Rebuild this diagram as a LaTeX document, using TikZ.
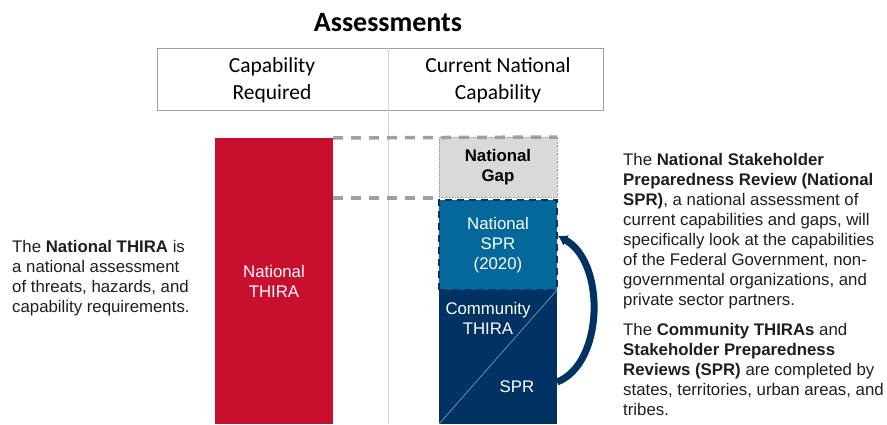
\documentclass[tikz,border=0pt]{standalone}
\usepackage{fontspec}
\setmainfont{Liberation Sans}
\newfontfamily\calfont{Carlito}
\usetikzlibrary{arrows.meta, positioning}
\tikzset{>=Latex}
\definecolor{thirared}{RGB}{200,16,46}
\definecolor{sprblue}{RGB}{4,104,154}
\definecolor{navy}{RGB}{0,50,100}
\definecolor{gapgray}{RGB}{217,217,217}
\definecolor{dashgray}{RGB}{160,160,160}
\definecolor{divblue}{RGB}{190,214,236}
\definecolor{bodytext}{RGB}{30,30,30}
\def\bodysize{\fontsize{16.8}{20}\selectfont}
\tikzset{
  bar/.style={inner sep=0, outer sep=0, align=center, font=\bodysize},
  gapline/.style={dashgray, line width=3.5pt, dash pattern=on 10pt off 8pt},
  head/.style={align=center, font=\calfont\fontsize{21.5}{27}\selectfont},
  note/.style={inner sep=0, align=left, font=\bodysize, text=bodytext}
}

\begin{document}
\begin{tikzpicture}[x=1pt, y=-1pt]
    \useasboundingbox (0,0) rectangle (887,424);

    %title and header
    \node[font=\calfont\fontsize{28}{32}\selectfont\bfseries] (title) at (388,23) {Assessments};
    \draw[dashgray, line width=0.8pt] (157,48) rectangle (603,110);
    \coordinate (divtop) at (388,48);
    \coordinate (divbot) at (388,424);
    \draw[divblue, line width=1pt] (divtop) -- (divbot);
    \node[head] (req) at (272,80) {Capability\\Required};
    \node[head] (cur) at (498,80) {Current National\\Capability};

    %capability required bar
    \node[bar, fill=thirared, text=white, minimum width=118, minimum height=286]
        (thira) at (274,281) {National\\THIRA};

    %current capability stack
    \node[bar, fill=gapgray, draw=dashgray, densely dotted, line width=0.6pt,
          minimum width=118, minimum height=60, font=\bodysize\bfseries]
        (gap) at (498,167) {National\\Gap};
    \node[bar, fill=navy, minimum width=118, minimum height=134]
        (comm) at (498,357) {};
    \node[bar, fill=sprblue, text=white, minimum width=118, minimum height=90]
        (nspr) at (498,245) {National\\SPR\\(2020)};
    \draw[navy, line width=2.5pt, dash pattern=on 7pt off 5pt]
        (nspr.south west) rectangle (nspr.north east);
    \draw[white!55!navy, line width=0.6pt] (comm.south west) -- (comm.north east);
    \node[bar, text=white] (cthira) at (488,318) {Community\\THIRA};
    \node[bar, text=white] (spr) at (517,387) {SPR};

    %gap lines
    \draw[gapline] (thira.north east) -- (gap.north east);
    \coordinate (gapend) at (436,198);
    \draw[gapline] (thira.east |- gapend) -- (gapend);

    %roll-up arrow
    \coordinate (arrstart) at (557,382);
    \coordinate (arrend) at (558,236);
    \draw[navy, line width=7pt, -{Latex[length=9pt, width=12pt]}]
        (arrstart) .. controls (604,364) and (606,262) .. (arrend);

    %notes
    \node[note, anchor=west] (leftnote) at (12,278)
        {The \textbf{National THIRA} is\\
         a national assessment\\
         of threats, hazards, and\\
         capability requirements.};
    \node[note, anchor=north west] (rightnote) at (623,153)
        {The \textbf{National Stakeholder}\\
         \textbf{Preparedness Review (National}\\
         \textbf{SPR)}, a national assessment of\\
         current capabilities and gaps, will\\
         specifically look at the capabilities\\
         of the Federal Government, non-\\
         governmental organizations, and\\
         private sector partners.\\[10pt]
         The \textbf{Community  THIRAs} and\\
         \textbf{Stakeholder Preparedness}\\
         \textbf{Reviews (SPR)} are completed by\\
         states, territories, urban areas, and\\
         tribes.};
\end{tikzpicture}
\end{document}
